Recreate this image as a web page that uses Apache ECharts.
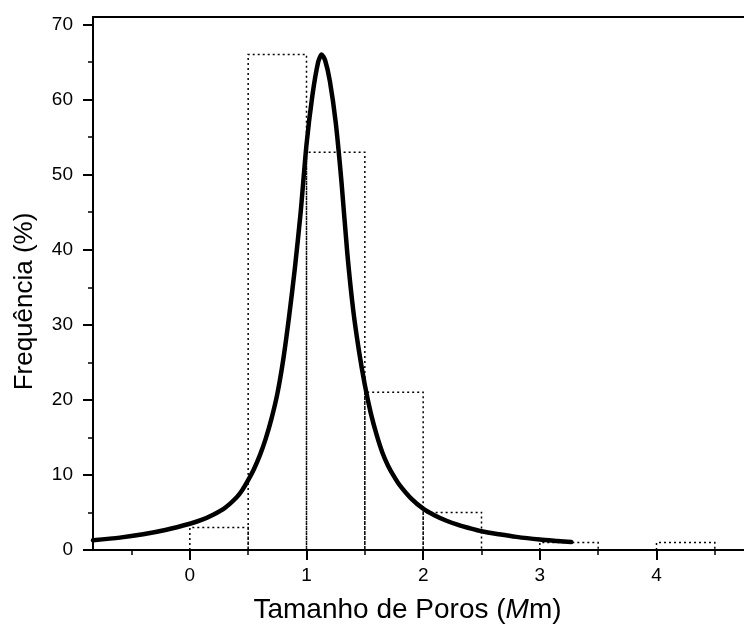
<!DOCTYPE html>
<html>
<head>
<meta charset="utf-8">
<title>Frequência por tamanho de poros</title>
<script src="https://cdn.jsdelivr.net/npm/echarts@6/dist/echarts.min.js"></script>
<style>
  html, body { margin: 0; padding: 0; background: #fff; }
  #chart { width: 744px; height: 630px; }
</style>
</head>
<body>
<div id="chart"></div>
<script>
// Histogram bins (left edge, width 0.5) and their frequencies (%)
const binStarts = [0.0, 0.5, 1.0, 1.5, 2.0, 2.5, 3.0, 4.0];
const binFreq   = [3, 66, 53, 21, 5, 0, 1, 1];
const binWidth  = 0.5;

// Fitted distribution curve, sampled along pore size
const curveX = [-0.83, -0.6, -0.4, -0.2, 0.0, 0.1, 0.2, 0.3, 0.4, 0.45, 0.5, 0.55, 0.6, 0.65,
                0.7, 0.75, 0.8, 0.85, 0.9, 0.95, 1.0, 1.05, 1.1, 1.13, 1.16, 1.2, 1.25, 1.3,
                1.35, 1.4, 1.45, 1.5, 1.55, 1.6, 1.65, 1.7, 1.75, 1.8, 1.9, 2.0, 2.1, 2.2,
                2.3, 2.4, 2.5, 2.65, 2.8, 3.0, 3.15, 3.27];
const curveY = [1.3, 1.65, 2.1, 2.7, 3.5, 4.0, 4.7, 5.6, 7.0, 8.0, 9.3, 10.8, 12.6, 14.8,
                17.5, 20.8, 25.3, 31.0, 37.5, 45.0, 54.0, 60.5, 65.0, 66.0, 65.2, 62.5, 57.0, 49.0,
                39.5, 32.0, 26.5, 22.0, 18.3, 15.4, 13.0, 11.2, 9.8, 8.6, 6.8, 5.5, 4.6, 3.9,
                3.35, 2.9, 2.5, 2.1, 1.75, 1.4, 1.2, 1.05];

// Tick positions
const xMajorTicks = [0, 1, 2, 3, 4];
const xMinorTicks = [-0.5, 0.5, 1.5, 2.5, 3.5, 4.5];
const yMajorTicks = [0, 10, 20, 30, 40, 50, 60, 70];
const yMinorTicks = [5, 15, 25, 35, 45, 55, 65];

const FONT = '"Liberation Sans", Arial, Helvetica, sans-serif';
const X_MIN = -0.83, X_MAX = 4.75, Y_MIN = 0, Y_MAX = 71;

const histData = binStarts.map((s, i) => [s, s + binWidth, binFreq[i]]);
const curveData = curveX.map((x, i) => [x, curveY[i]]);

const chart = echarts.init(document.getElementById('chart'), null, { renderer: 'canvas' });

const hiddenAxisParts = {
  axisLabel: { show: false },
  splitLine: { show: false },
  axisLine: { show: false, onZero: false }
};

chart.setOption({
  backgroundColor: '#ffffff',
  animation: false,
  grid: { left: 93, right: 0, top: 17, bottom: 80, containLabel: false },
  xAxis: [
    {
      type: 'value', min: X_MIN, max: X_MAX, position: 'bottom',
      axisLine: { show: true, onZero: false, lineStyle: { color: '#000', width: 2 } },
      axisTick: { show: true, inside: false, length: 10, customValues: xMajorTicks,
                  lineStyle: { color: '#000', width: 2 } },
      axisLabel: { show: true, customValues: xMajorTicks, margin: 16, color: '#000',
                   fontFamily: FONT, fontSize: 19 },
      splitLine: { show: false },
      name: 'Tamanho de Poros ({i|M}m)',
      nameLocation: 'middle', nameGap: 46,
      nameTextStyle: {
        color: '#000', fontFamily: FONT, fontSize: 28, padding: [0, 22, 0, 0],
        rich: { i: { fontStyle: 'italic', fontFamily: FONT, fontSize: 28, color: '#000' } }
      }
    },
    {
      type: 'value', min: X_MIN, max: X_MAX, position: 'bottom',
      axisTick: { show: true, inside: false, length: 5, customValues: xMinorTicks,
                  lineStyle: { color: '#000', width: 1.5 } },
      ...hiddenAxisParts
    },
    {
      type: 'value', min: X_MIN, max: X_MAX, position: 'top',
      axisLine: { show: true, onZero: false, lineStyle: { color: '#000', width: 2 } },
      axisTick: { show: false }, axisLabel: { show: false }, splitLine: { show: false }
    }
  ],
  yAxis: [
    {
      type: 'value', min: Y_MIN, max: Y_MAX, position: 'left',
      axisLine: { show: true, onZero: false, lineStyle: { color: '#000', width: 2 } },
      axisTick: { show: true, inside: false, length: 10, customValues: yMajorTicks,
                  lineStyle: { color: '#000', width: 2 } },
      axisLabel: { show: true, customValues: yMajorTicks, margin: 20, color: '#000',
                   fontFamily: FONT, fontSize: 19 },
      splitLine: { show: false },
      name: 'Frequência (%)',
      nameLocation: 'middle', nameGap: 55, nameRotate: 90,
      nameTextStyle: { color: '#000', fontFamily: FONT, fontSize: 26, padding: [0, 36, 0, 0] }
    },
    {
      type: 'value', min: Y_MIN, max: Y_MAX, position: 'left',
      axisTick: { show: true, inside: false, length: 5, customValues: yMinorTicks,
                  lineStyle: { color: '#000', width: 1.5 } },
      ...hiddenAxisParts
    }
  ],
  series: [
    {
      // dotted histogram outlines
      type: 'custom',
      xAxisIndex: 0, yAxisIndex: 0,
      z: 1,
      data: histData,
      renderItem: function (params, api) {
        const h = api.value(2);
        if (!h) return null;
        const p0 = api.coord([api.value(0), 0]);
        const p1 = api.coord([api.value(1), h]);
        return {
          type: 'polyline',
          shape: { points: [[p0[0], p0[1]], [p0[0], p1[1]], [p1[0], p1[1]], [p1[0], p0[1]]] },
          style: { fill: null, stroke: '#000', lineWidth: 1.5, lineDash: [2, 3] }
        };
      }
    },
    {
      type: 'line',
      xAxisIndex: 0, yAxisIndex: 0,
      z: 3,
      data: curveData,
      smooth: 0.25,
      showSymbol: false,
      symbol: 'none',
      lineStyle: { color: '#000', width: 4.5, join: 'round', cap: 'round' },
      clip: true
    }
  ]
});
</script>
</body>
</html>
